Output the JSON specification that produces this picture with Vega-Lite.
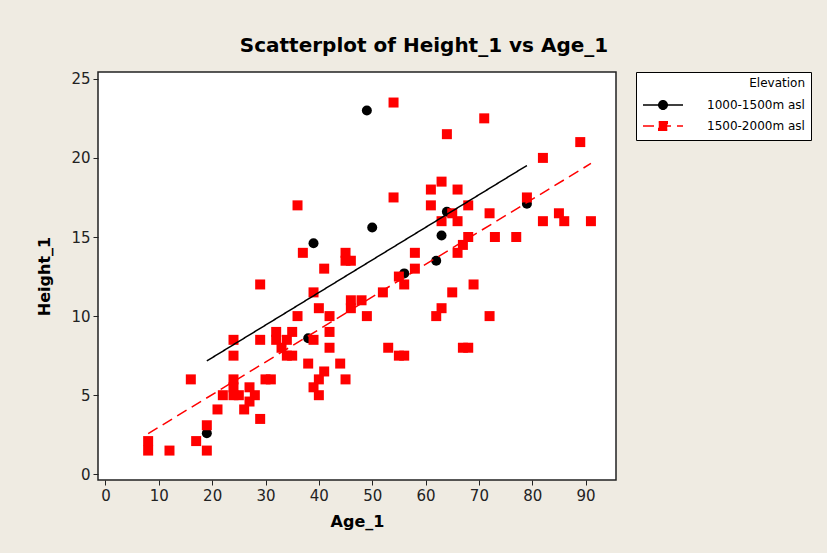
{
  "$schema": "https://vega.github.io/schema/vega-lite/v6.json",
  "width": 518,
  "height": 408,
  "autosize": {"type": "none"},
  "padding": {"left": 98, "top": 72, "right": 211, "bottom": 73},
  "background": "#EFEBE2",
  "title": {
    "text": "Scatterplot of Height_1 vs Age_1",
    "font": "DejaVu Sans",
    "fontSize": 20,
    "fontWeight": "bold",
    "color": "#000000",
    "anchor": "middle",
    "dx": 67,
    "offset": 16
  },
  "config": {
    "view": {"stroke": "#222222", "strokeWidth": 1.5, "fill": "#FFFFFF"},
    "axis": {
      "labelFont": "DejaVu Sans",
      "labelFontSize": 15,
      "labelColor": "#222222",
      "titleFont": "DejaVu Sans",
      "titleFontSize": 16,
      "titleFontWeight": "bold",
      "titleColor": "#000000",
      "tickColor": "#222222",
      "tickSize": 5,
      "tickWidth": 1,
      "domain": false,
      "grid": false
    },
    "legend": {
      "titleFont": "DejaVu Sans",
      "titleFontSize": 12,
      "titleFontWeight": "normal",
      "titleColor": "#000000",
      "labelFont": "DejaVu Sans",
      "labelFontSize": 12,
      "labelColor": "#000000"
    }
  },
  "data": {
    "values": [
      {"Age_1": 19, "Height_1": 2.6, "Elevation": "1000-1500m asl"},
      {"Age_1": 49, "Height_1": 23.0, "Elevation": "1000-1500m asl"},
      {"Age_1": 39, "Height_1": 14.6, "Elevation": "1000-1500m asl"},
      {"Age_1": 50, "Height_1": 15.6, "Elevation": "1000-1500m asl"},
      {"Age_1": 38, "Height_1": 8.6, "Elevation": "1000-1500m asl"},
      {"Age_1": 56, "Height_1": 12.7, "Elevation": "1000-1500m asl"},
      {"Age_1": 62, "Height_1": 13.5, "Elevation": "1000-1500m asl"},
      {"Age_1": 63, "Height_1": 15.1, "Elevation": "1000-1500m asl"},
      {"Age_1": 64, "Height_1": 16.6, "Elevation": "1000-1500m asl"},
      {"Age_1": 79, "Height_1": 17.1, "Elevation": "1000-1500m asl"},
      {"Age_1": 8, "Height_1": 2.1, "Elevation": "1500-2000m asl"},
      {"Age_1": 8, "Height_1": 1.5, "Elevation": "1500-2000m asl"},
      {"Age_1": 12, "Height_1": 1.5, "Elevation": "1500-2000m asl"},
      {"Age_1": 16, "Height_1": 6.0, "Elevation": "1500-2000m asl"},
      {"Age_1": 17, "Height_1": 2.1, "Elevation": "1500-2000m asl"},
      {"Age_1": 19, "Height_1": 3.1, "Elevation": "1500-2000m asl"},
      {"Age_1": 19, "Height_1": 1.5, "Elevation": "1500-2000m asl"},
      {"Age_1": 21, "Height_1": 4.1, "Elevation": "1500-2000m asl"},
      {"Age_1": 22, "Height_1": 5.0, "Elevation": "1500-2000m asl"},
      {"Age_1": 24, "Height_1": 8.5, "Elevation": "1500-2000m asl"},
      {"Age_1": 24, "Height_1": 7.5, "Elevation": "1500-2000m asl"},
      {"Age_1": 24, "Height_1": 6.0, "Elevation": "1500-2000m asl"},
      {"Age_1": 24, "Height_1": 5.5, "Elevation": "1500-2000m asl"},
      {"Age_1": 24, "Height_1": 5.0, "Elevation": "1500-2000m asl"},
      {"Age_1": 25, "Height_1": 5.0, "Elevation": "1500-2000m asl"},
      {"Age_1": 26, "Height_1": 4.1, "Elevation": "1500-2000m asl"},
      {"Age_1": 27, "Height_1": 5.5, "Elevation": "1500-2000m asl"},
      {"Age_1": 27, "Height_1": 4.6, "Elevation": "1500-2000m asl"},
      {"Age_1": 28, "Height_1": 5.0, "Elevation": "1500-2000m asl"},
      {"Age_1": 29, "Height_1": 3.5, "Elevation": "1500-2000m asl"},
      {"Age_1": 29, "Height_1": 12.0, "Elevation": "1500-2000m asl"},
      {"Age_1": 29, "Height_1": 8.5, "Elevation": "1500-2000m asl"},
      {"Age_1": 30, "Height_1": 6.0, "Elevation": "1500-2000m asl"},
      {"Age_1": 31, "Height_1": 6.0, "Elevation": "1500-2000m asl"},
      {"Age_1": 32, "Height_1": 9.0, "Elevation": "1500-2000m asl"},
      {"Age_1": 32, "Height_1": 8.5, "Elevation": "1500-2000m asl"},
      {"Age_1": 34, "Height_1": 8.5, "Elevation": "1500-2000m asl"},
      {"Age_1": 33, "Height_1": 8.0, "Elevation": "1500-2000m asl"},
      {"Age_1": 34, "Height_1": 7.5, "Elevation": "1500-2000m asl"},
      {"Age_1": 35, "Height_1": 9.0, "Elevation": "1500-2000m asl"},
      {"Age_1": 35, "Height_1": 7.5, "Elevation": "1500-2000m asl"},
      {"Age_1": 36, "Height_1": 10.0, "Elevation": "1500-2000m asl"},
      {"Age_1": 36, "Height_1": 17.0, "Elevation": "1500-2000m asl"},
      {"Age_1": 37, "Height_1": 14.0, "Elevation": "1500-2000m asl"},
      {"Age_1": 38, "Height_1": 7.0, "Elevation": "1500-2000m asl"},
      {"Age_1": 39, "Height_1": 11.5, "Elevation": "1500-2000m asl"},
      {"Age_1": 39, "Height_1": 8.5, "Elevation": "1500-2000m asl"},
      {"Age_1": 39, "Height_1": 5.5, "Elevation": "1500-2000m asl"},
      {"Age_1": 40, "Height_1": 10.5, "Elevation": "1500-2000m asl"},
      {"Age_1": 40, "Height_1": 6.0, "Elevation": "1500-2000m asl"},
      {"Age_1": 40, "Height_1": 5.0, "Elevation": "1500-2000m asl"},
      {"Age_1": 41, "Height_1": 13.0, "Elevation": "1500-2000m asl"},
      {"Age_1": 41, "Height_1": 6.5, "Elevation": "1500-2000m asl"},
      {"Age_1": 42, "Height_1": 10.0, "Elevation": "1500-2000m asl"},
      {"Age_1": 42, "Height_1": 9.0, "Elevation": "1500-2000m asl"},
      {"Age_1": 42, "Height_1": 8.0, "Elevation": "1500-2000m asl"},
      {"Age_1": 44, "Height_1": 7.0, "Elevation": "1500-2000m asl"},
      {"Age_1": 45, "Height_1": 14.0, "Elevation": "1500-2000m asl"},
      {"Age_1": 45, "Height_1": 13.5, "Elevation": "1500-2000m asl"},
      {"Age_1": 46, "Height_1": 13.5, "Elevation": "1500-2000m asl"},
      {"Age_1": 45, "Height_1": 6.0, "Elevation": "1500-2000m asl"},
      {"Age_1": 46, "Height_1": 11.0, "Elevation": "1500-2000m asl"},
      {"Age_1": 46, "Height_1": 10.5, "Elevation": "1500-2000m asl"},
      {"Age_1": 48, "Height_1": 11.0, "Elevation": "1500-2000m asl"},
      {"Age_1": 49, "Height_1": 10.0, "Elevation": "1500-2000m asl"},
      {"Age_1": 52, "Height_1": 11.5, "Elevation": "1500-2000m asl"},
      {"Age_1": 53, "Height_1": 8.0, "Elevation": "1500-2000m asl"},
      {"Age_1": 54, "Height_1": 23.5, "Elevation": "1500-2000m asl"},
      {"Age_1": 54, "Height_1": 17.5, "Elevation": "1500-2000m asl"},
      {"Age_1": 55, "Height_1": 12.5, "Elevation": "1500-2000m asl"},
      {"Age_1": 56, "Height_1": 12.0, "Elevation": "1500-2000m asl"},
      {"Age_1": 55, "Height_1": 7.5, "Elevation": "1500-2000m asl"},
      {"Age_1": 56, "Height_1": 7.5, "Elevation": "1500-2000m asl"},
      {"Age_1": 58, "Height_1": 14.0, "Elevation": "1500-2000m asl"},
      {"Age_1": 58, "Height_1": 13.0, "Elevation": "1500-2000m asl"},
      {"Age_1": 61, "Height_1": 18.0, "Elevation": "1500-2000m asl"},
      {"Age_1": 63, "Height_1": 18.5, "Elevation": "1500-2000m asl"},
      {"Age_1": 61, "Height_1": 17.0, "Elevation": "1500-2000m asl"},
      {"Age_1": 63, "Height_1": 16.0, "Elevation": "1500-2000m asl"},
      {"Age_1": 64, "Height_1": 21.5, "Elevation": "1500-2000m asl"},
      {"Age_1": 62, "Height_1": 10.0, "Elevation": "1500-2000m asl"},
      {"Age_1": 63, "Height_1": 10.5, "Elevation": "1500-2000m asl"},
      {"Age_1": 65, "Height_1": 11.5, "Elevation": "1500-2000m asl"},
      {"Age_1": 66, "Height_1": 18.0, "Elevation": "1500-2000m asl"},
      {"Age_1": 65, "Height_1": 16.5, "Elevation": "1500-2000m asl"},
      {"Age_1": 66, "Height_1": 16.0, "Elevation": "1500-2000m asl"},
      {"Age_1": 68, "Height_1": 17.0, "Elevation": "1500-2000m asl"},
      {"Age_1": 68, "Height_1": 15.0, "Elevation": "1500-2000m asl"},
      {"Age_1": 67, "Height_1": 14.5, "Elevation": "1500-2000m asl"},
      {"Age_1": 66, "Height_1": 14.0, "Elevation": "1500-2000m asl"},
      {"Age_1": 69, "Height_1": 12.0, "Elevation": "1500-2000m asl"},
      {"Age_1": 67, "Height_1": 8.0, "Elevation": "1500-2000m asl"},
      {"Age_1": 68, "Height_1": 8.0, "Elevation": "1500-2000m asl"},
      {"Age_1": 71, "Height_1": 22.5, "Elevation": "1500-2000m asl"},
      {"Age_1": 72, "Height_1": 16.5, "Elevation": "1500-2000m asl"},
      {"Age_1": 72, "Height_1": 10.0, "Elevation": "1500-2000m asl"},
      {"Age_1": 73, "Height_1": 15.0, "Elevation": "1500-2000m asl"},
      {"Age_1": 77, "Height_1": 15.0, "Elevation": "1500-2000m asl"},
      {"Age_1": 79, "Height_1": 17.5, "Elevation": "1500-2000m asl"},
      {"Age_1": 82, "Height_1": 20.0, "Elevation": "1500-2000m asl"},
      {"Age_1": 82, "Height_1": 16.0, "Elevation": "1500-2000m asl"},
      {"Age_1": 85, "Height_1": 16.5, "Elevation": "1500-2000m asl"},
      {"Age_1": 86, "Height_1": 16.0, "Elevation": "1500-2000m asl"},
      {"Age_1": 89, "Height_1": 21.0, "Elevation": "1500-2000m asl"},
      {"Age_1": 91, "Height_1": 16.0, "Elevation": "1500-2000m asl"}
    ]
  },
  "encoding": {
    "x": {
      "field": "Age_1",
      "type": "quantitative",
      "scale": {"domain": [-1.4, 95.7], "nice": false, "zero": false},
      "axis": {"values": [0, 10, 20, 30, 40, 50, 60, 70, 80, 90], "title": "Age_1", "labelPadding": 3, "titlePadding": 10}
    },
    "y": {
      "field": "Height_1",
      "type": "quantitative",
      "scale": {"domain": [-0.36, 25.43], "nice": false, "zero": false},
      "axis": {"values": [0, 5, 10, 15, 20, 25], "title": "Height_1", "labelPadding": 3, "titlePadding": 18}
    },
    "color": {
      "field": "Elevation",
      "type": "nominal",
      "scale": {"domain": ["1000-1500m asl", "1500-2000m asl"], "range": ["#000000", "#FF0000"]},
      "legend": {
        "title": "Elevation",
        "orient": "none",
        "legendX": 538,
        "legendY": 0,
        "titleAnchor": "end",
        "titlePadding": 9,
        "labelOffset": 38,
        "symbolOffset": 15,
        "symbolSize": 100,
        "rowPadding": 5,
        "padding": 6,
        "strokeColor": "#000000",
        "fillColor": "#FFFFFF",
        "symbolOpacity": 1
      }
    }
  },
  "layer": [
    {
      "transform": [{"filter": "datum.Elevation === '1000-1500m asl'"}],
      "mark": {"type": "point", "shape": "circle", "filled": true, "opacity": 1, "size": 100}
    },
    {
      "transform": [{"filter": "datum.Elevation === '1500-2000m asl'"}],
      "mark": {"type": "point", "shape": "square", "filled": true, "opacity": 1, "size": 100}
    },
    {
      "transform": [{"regression": "Height_1", "on": "Age_1", "groupby": ["Elevation"]}],
      "mark": {"type": "line", "strokeWidth": 1.5},
      "encoding": {
        "strokeDash": {
          "field": "Elevation",
          "type": "nominal",
          "scale": {"domain": ["1000-1500m asl", "1500-2000m asl"], "range": [[1, 0], [11, 6]]},
          "legend": null
        }
      }
    },
    {
      "transform": [{"filter": "datum.Age_1 < -100"}],
      "mark": {"type": "point", "filled": true, "opacity": 1, "size": 100},
      "encoding": {
        "shape": {
          "field": "Elevation",
          "type": "nominal",
          "scale": {
            "domain": ["1000-1500m asl", "1500-2000m asl"],
            "range": [
              "M-4,0L4,0 M0.85,0A0.85,0.85,0,1,1,-0.85,0A0.85,0.85,0,1,1,0.85,0Z",
              "M-4,0L4,0 M-0.85,-0.85L0.85,-0.85L0.85,0.85L-0.85,0.85Z"
            ]
          },
          "legend": {
            "title": "Elevation",
            "orient": "none",
            "legendX": 538,
            "legendY": 0,
            "titleAnchor": "end",
            "titlePadding": 9,
            "labelOffset": 38,
            "symbolOffset": 15,
            "symbolSize": 100,
            "rowPadding": 5,
            "padding": 6,
            "strokeColor": "#000000",
            "fillColor": "#FFFFFF",
            "symbolOpacity": 1
          }
        }
      }
    }
  ]
}
